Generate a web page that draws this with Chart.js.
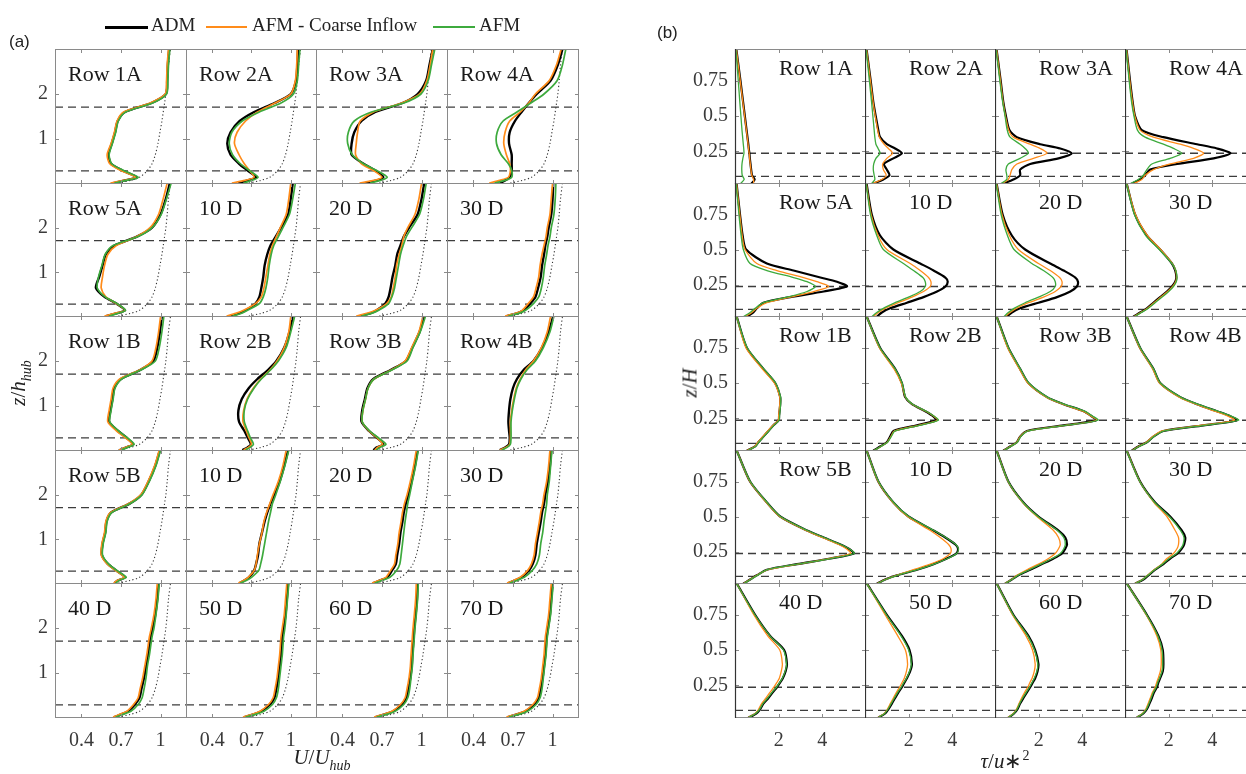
<!DOCTYPE html>
<html>
<head>
<meta charset="utf-8">
<script src="https://cdn.jsdelivr.net/npm/chart.js@4"></script>
<style>
  body { margin: 0; width: 1246px; height: 774px; overflow: hidden; position: relative; background: #fff; font-family: 'Liberation Serif', serif; color: #222; }
  canvas { position: absolute; }
  .txt { position: absolute; white-space: nowrap; line-height: 1; }
  .lab { font-size: 22px; color: #1a1a1a; }
  .leg { font-size: 19px; top: 15px; }
  .legline { position: absolute; height: 3px; top: 26px; }
  .tag { font-family: 'Liberation Sans', Arial, sans-serif; font-size: 17px; }
  .ttl { font-size: 21px; transform: translate(-50%, -50%); }
  .ttl sub, .ttl sup { font-size: 14px; }
</style>
</head>
<body>
<script>
// ---- donnees (a) : vitesse U/Uhub en fonction de z/hhub ----
const zA = [0.02, 0.08, 0.15, 0.3, 0.45, 0.65, 0.9, 1.15, 1.4, 1.6, 1.8, 2.0, 2.3, 2.65, 3.0]
const ticksXA = [0.4, 0.7, 1]
const ticksYA = [1, 2]
const rotorA = [0.29, 1.71]
const panelLabels = ['Row 1A', 'Row 2A', 'Row 3A', 'Row 4A', 'Row 5A', '10 D', '20 D', '30 D',
  'Row 1B', 'Row 2B', 'Row 3B', 'Row 4B', 'Row 5B', '10 D', '20 D', '30 D', '40 D', '50 D', '60 D', '70 D']

// profil d'entree (pointille), le meme dans chaque case
const inflowA = [0.68, 0.77, 0.84, 0.90, 0.935, 0.96, 0.98, 0.995, 1.01, 1.02, 1.03, 1.04, 1.05, 1.06, 1.075]

const admA = [
  [0.64, 0.73, 0.82, 0.71, 0.625, 0.605, 0.63, 0.655, 0.675, 0.73, 0.93, 1.04, 1.05, 1.055, 1.065],
  [0.60, 0.67, 0.735, 0.67, 0.605, 0.54, 0.515, 0.54, 0.61, 0.72, 0.875, 1.0, 1.04, 1.05, 1.055],
  [0.57, 0.66, 0.71, 0.65, 0.56, 0.47, 0.47, 0.49, 0.545, 0.65, 0.855, 0.97, 1.035, 1.06, 1.085],
  [0.60, 0.64, 0.675, 0.69, 0.69, 0.69, 0.67, 0.675, 0.715, 0.765, 0.82, 0.88, 0.985, 1.04, 1.075],
  [0.585, 0.665, 0.73, 0.665, 0.575, 0.51, 0.535, 0.56, 0.585, 0.65, 0.82, 0.935, 1.0, 1.04, 1.07],
  [0.54, 0.605, 0.655, 0.73, 0.76, 0.775, 0.79, 0.80, 0.82, 0.845, 0.885, 0.925, 0.98, 1.0, 1.015],
  [0.53, 0.61, 0.66, 0.725, 0.75, 0.765, 0.78, 0.80, 0.815, 0.84, 0.865, 0.905, 0.97, 1.0, 1.02],
  [0.65, 0.73, 0.78, 0.83, 0.87, 0.89, 0.91, 0.92, 0.935, 0.945, 0.96, 0.97, 0.99, 1.0, 1.005],
  [0.69, 0.74, 0.79, 0.74, 0.675, 0.61, 0.62, 0.635, 0.65, 0.70, 0.845, 0.945, 0.975, 0.995, 1.01],
  [0.63, 0.67, 0.695, 0.67, 0.645, 0.605, 0.60, 0.625, 0.68, 0.745, 0.825, 0.89, 0.95, 0.99, 1.015],
  [0.635, 0.66, 0.71, 0.66, 0.60, 0.545, 0.55, 0.57, 0.59, 0.635, 0.765, 0.88, 0.93, 0.985, 1.02],
  [0.60, 0.64, 0.67, 0.675, 0.67, 0.665, 0.67, 0.68, 0.70, 0.73, 0.78, 0.855, 0.92, 0.97, 1.005],
  [0.65, 0.675, 0.73, 0.665, 0.60, 0.555, 0.56, 0.58, 0.59, 0.625, 0.765, 0.855, 0.91, 0.96, 0.995],
  [0.61, 0.645, 0.68, 0.72, 0.735, 0.75, 0.76, 0.78, 0.80, 0.82, 0.845, 0.875, 0.915, 0.95, 0.98],
  [0.635, 0.685, 0.74, 0.775, 0.805, 0.815, 0.83, 0.84, 0.855, 0.865, 0.88, 0.90, 0.925, 0.95, 0.97],
  [0.665, 0.715, 0.765, 0.82, 0.85, 0.87, 0.88, 0.895, 0.91, 0.92, 0.935, 0.945, 0.965, 0.98, 0.99],
  [0.65, 0.70, 0.755, 0.805, 0.84, 0.855, 0.875, 0.89, 0.905, 0.915, 0.925, 0.94, 0.96, 0.975, 0.985],
  [0.645, 0.715, 0.775, 0.84, 0.875, 0.89, 0.905, 0.915, 0.925, 0.93, 0.935, 0.945, 0.96, 0.97, 0.98],
  [0.65, 0.72, 0.785, 0.85, 0.885, 0.90, 0.915, 0.925, 0.93, 0.935, 0.94, 0.945, 0.955, 0.965, 0.97],
  [0.66, 0.73, 0.795, 0.86, 0.895, 0.91, 0.925, 0.935, 0.945, 0.95, 0.955, 0.965, 0.98, 0.99, 1.0]
]

const afmCoarseA = [
  [0.62, 0.72, 0.81, 0.70, 0.615, 0.595, 0.625, 0.65, 0.67, 0.72, 0.92, 1.035, 1.045, 1.05, 1.06],
  [0.55, 0.65, 0.72, 0.685, 0.645, 0.605, 0.57, 0.59, 0.655, 0.745, 0.88, 1.0, 1.035, 1.045, 1.05],
  [0.53, 0.64, 0.70, 0.635, 0.545, 0.50, 0.505, 0.515, 0.535, 0.635, 0.85, 0.985, 1.04, 1.065, 1.085],
  [0.52, 0.60, 0.665, 0.68, 0.675, 0.65, 0.63, 0.64, 0.675, 0.755, 0.82, 0.87, 0.975, 1.03, 1.065],
  [0.575, 0.65, 0.73, 0.665, 0.585, 0.55, 0.56, 0.575, 0.60, 0.665, 0.82, 0.92, 0.985, 1.02, 1.05],
  [0.51, 0.58, 0.64, 0.73, 0.775, 0.795, 0.81, 0.825, 0.84, 0.86, 0.89, 0.92, 0.965, 0.985, 1.0],
  [0.505, 0.585, 0.65, 0.735, 0.77, 0.785, 0.80, 0.81, 0.83, 0.85, 0.865, 0.895, 0.95, 0.98, 1.0],
  [0.64, 0.72, 0.77, 0.815, 0.855, 0.875, 0.895, 0.905, 0.92, 0.935, 0.95, 0.96, 0.98, 0.99, 1.0],
  [0.685, 0.735, 0.785, 0.73, 0.665, 0.60, 0.61, 0.625, 0.64, 0.69, 0.84, 0.935, 0.965, 0.985, 1.0],
  [0.64, 0.675, 0.70, 0.68, 0.66, 0.635, 0.64, 0.665, 0.715, 0.77, 0.84, 0.895, 0.95, 0.985, 1.0],
  [0.645, 0.665, 0.705, 0.66, 0.60, 0.55, 0.555, 0.575, 0.595, 0.64, 0.77, 0.875, 0.925, 0.98, 1.01],
  [0.60, 0.645, 0.675, 0.68, 0.68, 0.68, 0.69, 0.705, 0.725, 0.755, 0.795, 0.855, 0.915, 0.96, 0.985],
  [0.645, 0.67, 0.725, 0.66, 0.595, 0.55, 0.555, 0.575, 0.585, 0.62, 0.76, 0.85, 0.905, 0.955, 0.99],
  [0.60, 0.64, 0.675, 0.72, 0.735, 0.745, 0.76, 0.78, 0.795, 0.815, 0.84, 0.865, 0.905, 0.94, 0.965],
  [0.625, 0.675, 0.73, 0.765, 0.795, 0.805, 0.82, 0.83, 0.845, 0.855, 0.87, 0.89, 0.915, 0.94, 0.96],
  [0.655, 0.705, 0.755, 0.81, 0.84, 0.86, 0.87, 0.885, 0.90, 0.91, 0.925, 0.935, 0.955, 0.97, 0.98],
  [0.64, 0.69, 0.745, 0.795, 0.83, 0.845, 0.865, 0.88, 0.895, 0.905, 0.915, 0.93, 0.95, 0.965, 0.975],
  [0.635, 0.705, 0.765, 0.83, 0.865, 0.88, 0.895, 0.905, 0.915, 0.92, 0.925, 0.935, 0.95, 0.96, 0.97],
  [0.64, 0.71, 0.775, 0.84, 0.875, 0.89, 0.905, 0.915, 0.92, 0.925, 0.93, 0.935, 0.945, 0.955, 0.96],
  [0.65, 0.72, 0.785, 0.85, 0.885, 0.90, 0.915, 0.925, 0.935, 0.94, 0.945, 0.955, 0.97, 0.98, 0.99]
]

const afmA = [
  [0.65, 0.74, 0.83, 0.72, 0.63, 0.61, 0.635, 0.66, 0.68, 0.735, 0.94, 1.045, 1.055, 1.06, 1.07],
  [0.64, 0.70, 0.75, 0.685, 0.615, 0.555, 0.53, 0.55, 0.63, 0.76, 0.925, 1.02, 1.05, 1.06, 1.07],
  [0.61, 0.69, 0.74, 0.66, 0.56, 0.475, 0.44, 0.445, 0.49, 0.62, 0.865, 0.995, 1.05, 1.075, 1.10],
  [0.56, 0.64, 0.69, 0.69, 0.665, 0.61, 0.575, 0.58, 0.625, 0.73, 0.835, 0.935, 1.035, 1.075, 1.10],
  [0.61, 0.675, 0.735, 0.67, 0.58, 0.52, 0.53, 0.555, 0.58, 0.64, 0.83, 0.935, 1.005, 1.045, 1.08],
  [0.555, 0.62, 0.67, 0.76, 0.79, 0.81, 0.825, 0.835, 0.85, 0.87, 0.905, 0.94, 0.99, 1.015, 1.035],
  [0.545, 0.62, 0.675, 0.75, 0.775, 0.795, 0.81, 0.825, 0.84, 0.86, 0.885, 0.925, 0.985, 1.015, 1.035],
  [0.665, 0.745, 0.795, 0.855, 0.895, 0.915, 0.93, 0.94, 0.955, 0.965, 0.98, 0.99, 1.01, 1.02, 1.025],
  [0.70, 0.75, 0.80, 0.745, 0.68, 0.615, 0.625, 0.64, 0.655, 0.705, 0.85, 0.96, 0.99, 1.01, 1.025],
  [0.655, 0.69, 0.715, 0.69, 0.67, 0.645, 0.645, 0.67, 0.72, 0.775, 0.845, 0.905, 0.965, 1.0, 1.03],
  [0.655, 0.685, 0.73, 0.67, 0.605, 0.55, 0.555, 0.575, 0.595, 0.64, 0.775, 0.89, 0.935, 0.99, 1.03],
  [0.615, 0.655, 0.68, 0.685, 0.685, 0.685, 0.695, 0.71, 0.73, 0.76, 0.805, 0.87, 0.93, 0.98, 1.01],
  [0.66, 0.685, 0.74, 0.67, 0.605, 0.56, 0.565, 0.585, 0.595, 0.63, 0.77, 0.86, 0.915, 0.965, 1.0],
  [0.615, 0.66, 0.70, 0.755, 0.77, 0.785, 0.80, 0.815, 0.83, 0.845, 0.86, 0.885, 0.92, 0.955, 0.985],
  [0.645, 0.70, 0.76, 0.81, 0.835, 0.845, 0.855, 0.865, 0.875, 0.885, 0.895, 0.91, 0.93, 0.955, 0.975],
  [0.675, 0.73, 0.785, 0.845, 0.88, 0.90, 0.91, 0.925, 0.935, 0.945, 0.955, 0.96, 0.975, 0.985, 0.995],
  [0.66, 0.715, 0.775, 0.83, 0.86, 0.875, 0.89, 0.90, 0.915, 0.925, 0.935, 0.95, 0.965, 0.98, 0.99],
  [0.655, 0.73, 0.795, 0.86, 0.89, 0.905, 0.915, 0.925, 0.935, 0.94, 0.945, 0.955, 0.965, 0.975, 0.985],
  [0.66, 0.735, 0.80, 0.865, 0.895, 0.91, 0.92, 0.93, 0.935, 0.94, 0.945, 0.95, 0.96, 0.97, 0.975],
  [0.67, 0.745, 0.81, 0.875, 0.905, 0.92, 0.93, 0.94, 0.95, 0.955, 0.96, 0.97, 0.985, 0.995, 1.005]
]

// ---- donnees (b) : contrainte tau/u*^2 en fonction de z/H ----
const zB = [0.02, 0.05, 0.08, 0.12, 0.16, 0.2, 0.236, 0.27, 0.3, 0.35, 0.4, 0.5, 0.6, 0.75, 0.975]
const ticksXB = [2, 4]
const ticksYB = [0.25, 0.5, 0.75]
const rotorB = [0.072, 0.236]

const admB = [
  [0.75, 0.90, 0.78, 0.74, 0.71, 0.68, 0.66, 0.63, 0.61, 0.57, 0.53, 0.45, 0.37, 0.25, 0.06],
  [0.38, 0.84, 1.12, 1.0, 0.87, 1.3, 1.69, 1.38, 1.0, 0.69, 0.61, 0.49, 0.38, 0.26, 0.07],
  [0.38, 0.84, 1.15, 1.15, 1.61, 2.91, 3.52, 2.99, 2.07, 1.0, 0.66, 0.50, 0.38, 0.26, 0.07],
  [0.31, 0.69, 0.92, 1.15, 2.38, 4.06, 4.83, 4.21, 3.3, 1.76, 0.77, 0.46, 0.35, 0.23, 0.07],
  [0.54, 0.84, 1.0, 1.3, 2.53, 4.06, 5.13, 4.67, 3.91, 2.68, 1.46, 0.51, 0.35, 0.23, 0.07],
  [0.54, 0.77, 1.15, 1.92, 2.68, 3.3, 3.68, 3.79, 3.68, 3.14, 2.53, 1.3, 0.69, 0.31, 0.07],
  [0.54, 0.77, 1.15, 1.99, 2.84, 3.45, 3.75, 3.8, 3.68, 3.14, 2.53, 1.38, 0.77, 0.35, 0.07],
  [0.38, 0.69, 1.0, 1.3, 1.61, 1.92, 2.15, 2.3, 2.35, 2.3, 2.15, 1.61, 1.0, 0.46, 0.07],
  [0.54, 0.92, 1.07, 1.3, 1.53, 1.76, 2.0, 2.02, 2.04, 2.07, 2.07, 1.84, 1.3, 0.54, 0.07],
  [0.38, 0.69, 1.0, 1.15, 1.3, 2.38, 3.26, 3.07, 2.76, 2.15, 1.84, 1.69, 1.38, 0.69, 0.07],
  [0.38, 0.69, 1.0, 1.15, 1.46, 3.14, 4.64, 4.37, 4.06, 3.14, 2.38, 1.53, 1.15, 0.61, 0.07],
  [0.31, 0.61, 1.0, 1.3, 1.76, 3.6, 5.13, 4.75, 4.21, 3.3, 2.53, 1.61, 1.3, 0.69, 0.07],
  [0.38, 0.69, 1.0, 1.46, 2.84, 4.37, 5.44, 5.21, 4.83, 4.06, 3.3, 2.07, 1.46, 0.69, 0.07],
  [0.54, 0.92, 1.46, 2.38, 3.14, 3.75, 4.18, 4.26, 4.14, 3.68, 3.14, 1.99, 1.3, 0.61, 0.07],
  [0.46, 0.77, 1.07, 1.61, 2.15, 2.68, 3.07, 3.22, 3.3, 3.22, 2.91, 1.99, 1.3, 0.61, 0.07],
  [0.46, 0.84, 1.07, 1.38, 1.76, 2.07, 2.41, 2.6, 2.71, 2.76, 2.6, 2.07, 1.38, 0.69, 0.07],
  [0.61, 0.97, 1.15, 1.3, 1.53, 1.73, 1.92, 2.07, 2.19, 2.32, 2.38, 2.25, 1.61, 0.92, 0.07],
  [0.61, 0.92, 1.07, 1.23, 1.38, 1.53, 1.69, 1.81, 1.92, 2.07, 2.15, 2.04, 1.69, 1.0, 0.07],
  [0.61, 0.87, 1.03, 1.15, 1.3, 1.46, 1.61, 1.73, 1.84, 1.95, 1.99, 1.84, 1.53, 0.84, 0.07],
  [0.54, 0.84, 1.0, 1.12, 1.23, 1.33, 1.46, 1.53, 1.61, 1.73, 1.76, 1.73, 1.53, 1.0, 0.07]
]

const afmCoarseB = [
  [0.85, 0.85, 0.77, 0.73, 0.70, 0.67, 0.65, 0.62, 0.60, 0.56, 0.52, 0.44, 0.36, 0.24, 0.06],
  [0.31, 0.77, 0.97, 0.84, 0.81, 1.0, 1.26, 1.07, 0.87, 0.66, 0.58, 0.47, 0.37, 0.25, 0.07],
  [0.31, 0.61, 0.69, 0.77, 1.0, 1.76, 2.38, 2.07, 1.61, 0.84, 0.63, 0.48, 0.37, 0.25, 0.07],
  [0.38, 0.77, 0.92, 1.3, 2.07, 3.14, 3.6, 3.14, 2.53, 1.30, 0.69, 0.45, 0.34, 0.22, 0.07],
  [0.46, 0.77, 1.0, 1.46, 2.53, 3.6, 4.29, 3.75, 3.14, 1.92, 1.0, 0.46, 0.33, 0.22, 0.07],
  [0.38, 0.61, 0.92, 1.53, 2.15, 2.68, 2.99, 3.02, 2.91, 2.53, 2.07, 1.0, 0.60, 0.28, 0.06],
  [0.46, 0.69, 0.97, 1.53, 2.22, 2.76, 3.03, 3.07, 2.96, 2.53, 1.99, 1.07, 0.66, 0.32, 0.07],
  [0.40, 0.72, 1.03, 1.33, 1.64, 1.95, 2.18, 2.32, 2.36, 2.32, 2.17, 1.63, 1.03, 0.48, 0.07],
  [0.52, 0.90, 1.05, 1.27, 1.50, 1.74, 1.98, 2.0, 2.02, 2.05, 2.05, 1.80, 1.25, 0.50, 0.07],
  [0.40, 0.72, 1.02, 1.18, 1.35, 2.45, 3.32, 3.1, 2.78, 2.16, 1.85, 1.66, 1.33, 0.66, 0.07],
  [0.38, 0.69, 1.0, 1.15, 1.50, 3.2, 4.66, 4.35, 4.02, 3.1, 2.35, 1.50, 1.12, 0.58, 0.07],
  [0.31, 0.61, 0.98, 1.27, 1.70, 3.45, 5.02, 4.65, 4.12, 3.24, 2.48, 1.58, 1.27, 0.67, 0.07],
  [0.38, 0.69, 1.0, 1.50, 2.9, 4.3, 5.3, 5.1, 4.75, 4.0, 3.25, 2.04, 1.44, 0.68, 0.07],
  [0.54, 0.92, 1.44, 2.22, 2.99, 3.6, 3.91, 3.94, 3.83, 3.45, 2.99, 1.95, 1.28, 0.60, 0.07],
  [0.44, 0.75, 1.0, 1.46, 1.99, 2.45, 2.76, 2.91, 2.99, 2.91, 2.68, 1.92, 1.27, 0.60, 0.07],
  [0.44, 0.8, 1.03, 1.33, 1.68, 1.92, 2.22, 2.38, 2.45, 2.45, 2.3, 1.92, 1.33, 0.68, 0.07],
  [0.58, 0.92, 1.08, 1.22, 1.42, 1.6, 1.78, 1.92, 2.03, 2.12, 2.17, 2.05, 1.5, 0.86, 0.07],
  [0.58, 0.88, 1.02, 1.16, 1.3, 1.44, 1.58, 1.70, 1.8, 1.9, 1.95, 1.85, 1.5, 0.92, 0.07],
  [0.58, 0.84, 0.98, 1.1, 1.22, 1.36, 1.5, 1.6, 1.7, 1.8, 1.84, 1.72, 1.42, 0.8, 0.07],
  [0.52, 0.8, 0.95, 1.06, 1.16, 1.26, 1.38, 1.45, 1.52, 1.62, 1.66, 1.64, 1.46, 0.97, 0.07]
]

const afmB = [
  [0.25, 0.42, 0.33, 0.31, 0.32, 0.36, 0.41, 0.40, 0.38, 0.35, 0.32, 0.27, 0.22, 0.15, 0.04],
  [0.30, 0.45, 0.42, 0.38, 0.40, 0.50, 0.69, 0.60, 0.50, 0.45, 0.42, 0.36, 0.30, 0.20, 0.05],
  [0.26, 0.54, 0.54, 0.50, 0.61, 1.15, 1.53, 1.38, 1.15, 0.69, 0.56, 0.46, 0.35, 0.22, 0.05],
  [0.23, 0.61, 0.84, 1.0, 1.23, 2.07, 2.6, 2.22, 1.76, 0.92, 0.57, 0.41, 0.30, 0.19, 0.05],
  [0.38, 0.69, 0.92, 1.3, 2.38, 3.3, 3.68, 3.3, 2.68, 1.46, 0.69, 0.38, 0.28, 0.18, 0.05],
  [0.31, 0.54, 0.84, 1.38, 1.99, 2.53, 2.76, 2.76, 2.65, 2.22, 1.76, 0.84, 0.54, 0.25, 0.05],
  [0.41, 0.61, 0.87, 1.38, 1.99, 2.53, 2.76, 2.76, 2.65, 2.22, 1.69, 0.87, 0.57, 0.28, 0.05],
  [0.43, 0.75, 1.07, 1.38, 1.70, 2.0, 2.22, 2.35, 2.38, 2.33, 2.15, 1.57, 0.95, 0.43, 0.06],
  [0.56, 0.94, 1.09, 1.32, 1.55, 1.78, 2.02, 2.04, 2.06, 2.09, 2.09, 1.86, 1.32, 0.56, 0.06],
  [0.40, 0.72, 1.03, 1.2, 1.38, 2.5, 3.36, 3.12, 2.8, 2.18, 1.86, 1.70, 1.38, 0.69, 0.06],
  [0.40, 0.71, 1.02, 1.18, 1.52, 3.22, 4.72, 4.42, 4.1, 3.16, 2.40, 1.55, 1.16, 0.62, 0.06],
  [0.33, 0.64, 1.02, 1.32, 1.80, 3.65, 5.2, 4.8, 4.25, 3.32, 2.55, 1.62, 1.31, 0.70, 0.06],
  [0.40, 0.71, 1.02, 1.48, 2.86, 4.4, 5.46, 5.23, 4.85, 4.08, 3.32, 2.08, 1.47, 0.70, 0.06],
  [0.56, 0.94, 1.48, 2.4, 3.16, 3.78, 4.2, 4.28, 4.16, 3.7, 3.16, 2.01, 1.31, 0.62, 0.06],
  [0.46, 0.77, 1.05, 1.58, 2.1, 2.62, 3.0, 3.15, 3.22, 3.15, 2.86, 1.97, 1.29, 0.61, 0.06],
  [0.46, 0.82, 1.05, 1.36, 1.72, 2.03, 2.36, 2.55, 2.66, 2.7, 2.55, 2.03, 1.36, 0.68, 0.06],
  [0.6, 0.95, 1.13, 1.28, 1.5, 1.7, 1.9, 2.05, 2.17, 2.3, 2.36, 2.22, 1.6, 0.91, 0.06],
  [0.6, 0.9, 1.05, 1.2, 1.35, 1.5, 1.66, 1.78, 1.9, 2.04, 2.12, 2.0, 1.65, 0.98, 0.06],
  [0.6, 0.86, 1.01, 1.13, 1.27, 1.43, 1.58, 1.7, 1.8, 1.92, 1.96, 1.81, 1.5, 0.83, 0.06],
  [0.53, 0.82, 0.98, 1.1, 1.2, 1.3, 1.43, 1.5, 1.58, 1.7, 1.73, 1.7, 1.51, 0.99, 0.06]
]

// ---- mise en page ----
const colsA = [55, 186, 316, 447, 578]
const colsB = [735, 865, 995, 1125, 1255]
const rows = [49, 183, 316, 450, 583, 717]

const orange = '#FF8C1A'
const green = '#3DAA3D'
const tickFont = { family: 'Liberation Serif', size: 20 }

// cadre gris + petites graduations vers l'interieur
const framePlugin = {
  id: 'frame',
  afterDatasetsDraw(chart, args, opts) {
    const { ctx, chartArea: a, scales } = chart
    ctx.save()
    ctx.strokeStyle = '#8a8a8a'
    ctx.lineWidth = 1
    ctx.beginPath()
    scales.x.ticks.forEach(t => {
      const px = Math.round(scales.x.getPixelForValue(t.value)) + 0.5
      ctx.moveTo(px, a.top); ctx.lineTo(px, a.top + 4)
      ctx.moveTo(px, a.bottom); ctx.lineTo(px, a.bottom - 4)
    })
    scales.y.ticks.forEach(t => {
      const py = Math.round(scales.y.getPixelForValue(t.value)) + 0.5
      ctx.moveTo(a.left, py); ctx.lineTo(a.left + 4, py)
      ctx.moveTo(a.right, py); ctx.lineTo(a.right - 4, py)
    })
    ctx.stroke()
    ctx.strokeRect(a.left + 0.5, a.top + 0.5, a.right - a.left - 1, a.bottom - a.top - 1)
    if (opts.zeroLine) {
      // axe x = 0 plus fonce dans (b)
      const px = Math.round(scales.x.getPixelForValue(0)) + 0.5
      ctx.strokeStyle = '#333'
      ctx.lineWidth = 1.2
      ctx.beginPath(); ctx.moveTo(px, a.top); ctx.lineTo(px, a.bottom); ctx.stroke()
    }
    ctx.restore()
  }
}

const profile = (xs, zs) => xs.map((v, i) => ({ x: v, y: zs[i] }))

function makePanel(o) {
  const w = o.right - o.left + 1
  const h = o.bottom - o.top + 1
  const c = document.createElement('canvas')
  c.width = w + o.padL
  c.height = h + o.padB
  c.style.left = (o.left - o.padL) + 'px'
  c.style.top = o.top + 'px'
  document.body.appendChild(c)

  const datasets = o.rotor.map(z => ({
    data: [{ x: o.xMin, y: z }, { x: o.xMax, y: z }],
    showLine: true, pointRadius: 0, borderColor: '#3c3c3c', borderWidth: 1.3,
    borderDash: [8, 5], order: 5
  }))
  if (o.inflow) {
    datasets.push({ data: profile(o.inflow, o.z), showLine: true, pointRadius: 0, tension: 0.3,
      borderColor: '#333', borderWidth: 1.1, borderDash: [1.2, 2.4], order: 4 })
  }
  datasets.push({ data: profile(o.adm, o.z), showLine: true, pointRadius: 0, tension: 0.25,
    borderColor: '#000', borderWidth: o.wBlack, order: 2 })
  datasets.push({ data: profile(o.coarse, o.z), showLine: true, pointRadius: 0, tension: 0.25,
    borderColor: orange, borderWidth: o.wColor, order: 1 })
  datasets.push({ data: profile(o.afm, o.z), showLine: true, pointRadius: 0, tension: 0.25,
    borderColor: green, borderWidth: o.wColor, order: 0 })

  new Chart(c, {
    type: 'scatter',
    data: { datasets },
    options: {
      responsive: false,
      animation: false,
      events: [],
      layout: { padding: 0 },
      plugins: { legend: { display: false }, tooltip: { enabled: false }, frame: { zeroLine: o.zeroLine } },
      scales: {
        x: {
          type: 'linear', min: o.xMin, max: o.xMax,
          grid: { display: false, drawTicks: false }, border: { display: false },
          afterBuildTicks: s => { s.ticks = o.xTicks.map(v => ({ value: v })) },
          afterFit: s => { s.height = o.padB; s.paddingLeft = 0; s.paddingRight = 0 },
          ticks: { display: o.showX, autoSkip: false, maxRotation: 0, padding: 11, color: '#3a3a3a', font: tickFont, callback: v => String(v) }
        },
        y: {
          type: 'linear', min: o.yMin, max: o.yMax,
          grid: { display: false, drawTicks: false }, border: { display: false },
          afterBuildTicks: s => { s.ticks = o.yTicks.map(v => ({ value: v })) },
          afterFit: s => { s.width = o.padL; s.paddingTop = 0; s.paddingBottom = 0 },
          ticks: { display: o.showY, autoSkip: false, padding: 7, color: '#3a3a3a', font: tickFont, callback: v => String(v) }
        }
      }
    },
    plugins: [framePlugin]
  })
}

function addText(html, cls, left, top) {
  const d = document.createElement('div')
  d.className = 'txt ' + cls
  d.innerHTML = html
  d.style.left = left + 'px'
  d.style.top = top + 'px'
  document.body.appendChild(d)
  return d
}

for (let k = 0; k < 20; k++) {
  const r = Math.floor(k / 4)
  const col = k % 4
  const bottomRow = r === 4

  makePanel({
    left: colsA[col], right: colsA[col + 1], top: rows[r], bottom: rows[r + 1],
    padL: col === 0 ? 55 : 0, padB: bottomRow ? 40 : 0,
    xMin: 0.2, xMax: 1.2, yMin: 0, yMax: 3,
    xTicks: ticksXA, yTicks: ticksYA, showX: bottomRow, showY: col === 0,
    rotor: rotorA, z: zA, inflow: inflowA,
    adm: admA[k], coarse: afmCoarseA[k], afm: afmA[k],
    wBlack: 2.4, wColor: 1.7, zeroLine: false
  })

  makePanel({
    left: colsB[col], right: colsB[col + 1], top: rows[r], bottom: rows[r + 1],
    padL: col === 0 ? 60 : 0, padB: bottomRow ? 40 : 0,
    xMin: 0, xMax: 6, yMin: 0.018, yMax: 0.975,
    xTicks: ticksXB, yTicks: ticksYB, showX: bottomRow, showY: col === 0,
    rotor: rotorB, z: zB, inflow: null,
    adm: admB[k], coarse: afmCoarseB[k], afm: afmB[k],
    wBlack: 2.2, wColor: 1.3, zeroLine: true
  })

  addText(panelLabels[k], 'lab', colsA[col] + 13, rows[r] + 14)
  addText(panelLabels[k], 'lab', colsB[col] + 44, rows[r] + 8)
}

// legende commune
const legend = [
  { name: 'ADM', color: '#000', x1: 105, x2: 148, tx: 151, h: 3 },
  { name: 'AFM - Coarse Inflow', color: orange, x1: 206, x2: 247, tx: 252, h: 2 },
  { name: 'AFM', color: green, x1: 433, x2: 475, tx: 479, h: 2 }
]
legend.forEach(l => {
  const line = document.createElement('div')
  line.className = 'legline'
  line.style.left = l.x1 + 'px'
  line.style.width = (l.x2 - l.x1) + 'px'
  line.style.height = l.h + 'px'
  line.style.background = l.color
  document.body.appendChild(line)
  addText(l.name, 'leg', l.tx, 15)
})

addText('(a)', 'tag', 9, 33)
addText('(b)', 'tag', 657, 24)

addText('<i>U</i>/<i>U</i><sub><i>hub</i></sub>', 'ttl', 322, 760)
addText('<i>τ</i>/<i>u</i>∗<sup>2</sup>', 'ttl', 1005, 760)
const yA = addText('<i>z</i>/<i>h</i><sub><i>hub</i></sub>', 'ttl', 21, 383)
yA.style.transform = 'translate(-50%, -50%) rotate(-90deg)'
const yB = addText('<i>z</i>/<i>H</i>', 'ttl', 690, 383)
yB.style.transform = 'translate(-50%, -50%) rotate(-90deg)'
</script>
</body>
</html>
